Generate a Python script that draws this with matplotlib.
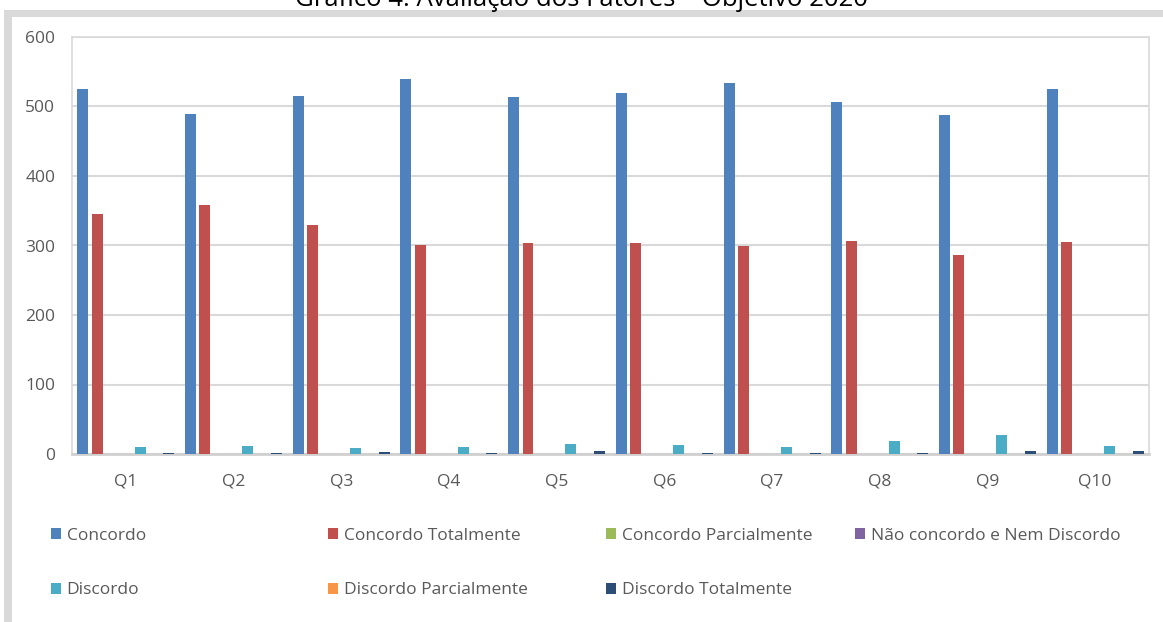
import numpy as np
import matplotlib
matplotlib.use("Agg")
import matplotlib.pyplot as plt
from matplotlib.patches import Rectangle

plt.rcParams['font.family'] = ['Open Sans', 'DejaVu Sans']

# Respostas por questão (Objetivo 2020)
questoes = ['Q1', 'Q2', 'Q3', 'Q4', 'Q5', 'Q6', 'Q7', 'Q8', 'Q9', 'Q10']
concordo = [525, 489, 515, 540, 514, 519, 534, 506, 488, 525]
concordo_totalmente = [346, 358, 329, 300, 303, 304, 299, 307, 287, 305]
concordo_parcialmente = [0, 0, 0, 0, 0, 0, 0, 0, 0, 0]
nao_concordo_nem_discordo = [0, 0, 0, 0, 0, 0, 0, 0, 0, 0]
discordo = [10, 11, 9, 10, 14, 13, 10, 18, 27, 11]
discordo_parcialmente = [0, 0, 0, 0, 0, 0, 0, 0, 0, 0]
discordo_totalmente = [1, 1, 3, 1, 5, 1, 1, 1, 5, 4]

series = [
    ('Concordo', concordo, '#4F81BD'),
    ('Concordo Totalmente', concordo_totalmente, '#C0504D'),
    ('Concordo Parcialmente', concordo_parcialmente, '#9BBB59'),
    ('Não concordo e Nem Discordo', nao_concordo_nem_discordo, '#8064A2'),
    ('Discordo', discordo, '#4BACC6'),
    ('Discordo Parcialmente', discordo_parcialmente, '#F79646'),
    ('Discordo Totalmente', discordo_totalmente, '#2C4D75'),
]

texto = '#595959'
grade = '#D9D9D9'

fig = plt.figure(figsize=(11.63, 6.22), dpi=100)
fig.patch.set_facecolor('white')

# moldura cinza do gráfico (faixa superior e lateral esquerda)
W, H = 1163, 622
fig.patches.append(Rectangle((4 / W, 0), 8 / W, (H - 10) / H, transform=fig.transFigure,
                             facecolor='#D9D9D9', edgecolor='none', zorder=0))
fig.patches.append(Rectangle((4 / W, (H - 17) / H), 1, 7 / H, transform=fig.transFigure,
                             facecolor='#D9D9D9', edgecolor='none', zorder=0))

fig.text(0.5, 1 - 6 / H, 'Gráfico 4: Avaliação dos Fatores – Objetivo 2020',
         ha='center', va='baseline', fontsize=18.5, color='black')

ax = fig.add_axes([72 / W, 1 - 454 / H, (1149 - 72) / W, (454 - 37) / H])

x = np.arange(len(questoes))
passo = 0.133
largura = 0.102
handles = []
for i, (nome, valores, cor) in enumerate(series):
    b = ax.bar(x + (i - 3) * passo, valores, width=largura, color=cor,
               linewidth=0, label=nome, zorder=3)
    handles.append(b)

ax.set_xlim(-0.5, len(questoes) - 0.5)
ax.set_ylim(0, 600)
ax.set_yticks(range(0, 601, 100))
ax.set_xticks(x)
ax.set_xticklabels(questoes)
ax.yaxis.grid(True, color=grade, linewidth=1.5, zorder=0)
ax.tick_params(axis='both', length=0, labelsize=12.5, labelcolor=texto)
ax.tick_params(axis='x', pad=14)
ax.tick_params(axis='y', pad=12)
for lado in ['left', 'right', 'top']:
    ax.spines[lado].set_color(grade)
    ax.spines[lado].set_linewidth(1.2)
ax.spines['bottom'].set_color('#D0D0D0')
ax.spines['bottom'].set_linewidth(2)

# legenda em quatro colunas com início fixo
colunas = [[0, 4], [1, 5], [2, 6], [3]]
inicio = [51, 328, 606, 855]
for col, x0 in zip(colunas, inicio):
    fig.legend([handles[k] for k in col], [series[k][0] for k in col],
               loc='upper left', bbox_to_anchor=(x0 / W, 1 - 528 / H),
               frameon=False, fontsize=12.5, labelcolor=texto,
               handlelength=0.6, handleheight=0.6, handletextpad=0.3,
               labelspacing=2.2, borderaxespad=0, borderpad=0)

fig.savefig('out.png', dpi=100)
